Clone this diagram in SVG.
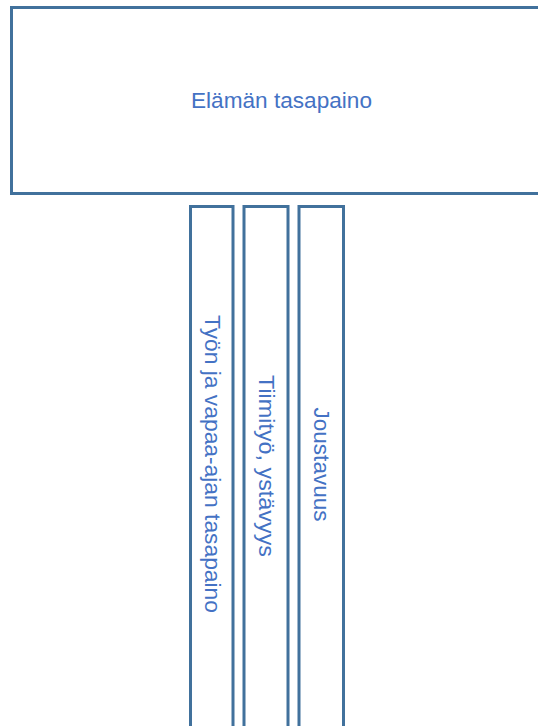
<svg xmlns="http://www.w3.org/2000/svg" width="538" height="726" viewBox="0 0 538 726">
  <style>
    .box { fill: #ffffff; stroke: #41719C; stroke-width: 3; }
    .label { font-family: "Liberation Sans", Arial, sans-serif; font-size: 22px; fill: #4472C4; }
  </style>
  <rect width="538" height="726" fill="#ffffff"/>
  <g id="connectors"></g>
  <g id="node-balance">
    <rect class="box" x="11.5" y="7.5" width="600" height="186"/>
    <text class="label" x="281.5" y="108" text-anchor="middle" textLength="181" lengthAdjust="spacingAndGlyphs">Elämän tasapaino</text>
  </g>
  <g id="node-worklife">
    <rect class="box" x="190.5" y="206.5" width="42.5" height="540"/>
    <text class="label" transform="translate(205 464) rotate(90)" text-anchor="middle" textLength="298" lengthAdjust="spacingAndGlyphs">Työn ja vapaa-ajan tasapaino</text>
  </g>
  <g id="node-teamwork">
    <rect class="box" x="244" y="206.5" width="44" height="540"/>
    <text class="label" transform="translate(258.5 466) rotate(90)" text-anchor="middle" textLength="182" lengthAdjust="spacingAndGlyphs">Tiimityö, ystävyys</text>
  </g>
  <g id="node-flexibility">
    <rect class="box" x="299" y="206.5" width="44.5" height="540"/>
    <text class="label" transform="translate(313.5 464.5) rotate(90)" text-anchor="middle" textLength="114" lengthAdjust="spacingAndGlyphs">Joustavuus</text>
  </g>
</svg>
